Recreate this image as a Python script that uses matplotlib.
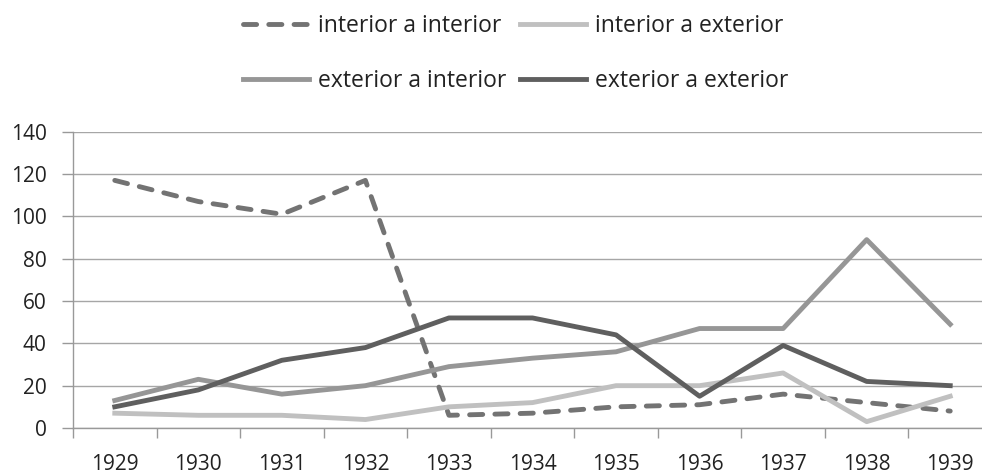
import matplotlib.pyplot as plt
import numpy as np

years = ["1929", "1930", "1931", "1932", "1933", "1934", "1935", "1936", "1937", "1938", "1939"]
int_int = [117, 107, 101, 117, 6, 7, 10, 11, 16, 12, 8]
int_ext = [7, 6, 6, 4, 10, 12, 20, 20, 26, 3, 15]
ext_int = [13, 23, 16, 20, 29, 33, 36, 47, 47, 89, 49]
ext_ext = [10, 18, 32, 38, 52, 52, 44, 15, 39, 22, 20]
y_ticks = [0, 20, 40, 60, 80, 100, 120, 140]

plt.rcParams["font.family"] = ["Open Sans", "DejaVu Sans"]

W, H = 982, 475
fig = plt.figure(figsize=(W / 100, H / 100), dpi=100)
ax = fig.add_axes([73 / W, 47 / H, (992 - 73) / W, (428 - 131.7) / H])

x = np.arange(len(years))
l1, = ax.plot(x, int_int, color="#737373", lw=3.5, linestyle=(0, (2.7, 2.5)),
              dash_capstyle="round", label="interior a interior", zorder=3)
l2, = ax.plot(x, int_ext, color="#c0c0c0", lw=3.5, label="interior a exterior", zorder=3)
l3, = ax.plot(x, ext_int, color="#969696", lw=3.5, label="exterior a interior", zorder=3)
l4, = ax.plot(x, ext_ext, color="#5f5f5f", lw=3.5, label="exterior a exterior", zorder=3)

ax.set_xlim(-0.5, len(years) - 0.5)
ax.set_ylim(0, 140)
ax.set_yticks(y_ticks)
ax.set_xticks(x)
ax.set_xticklabels(years)
ax.set_xticks(np.arange(len(years) + 1) - 0.5, minor=True)
ax.tick_params(axis="x", which="major", length=0, pad=19, labelsize=15, colors="#222222")
ax.tick_params(axis="x", which="minor", length=7, width=1, color="#999999")
ax.tick_params(axis="y", length=8, width=1, color="#999999", labelsize=15,
               labelcolor="#222222", pad=11)

ax.grid(axis="y", color="#a6a6a6", linewidth=1)
ax.set_axisbelow(True)
for s in ["top", "right"]:
    ax.spines[s].set_visible(False)
for s in ["left", "bottom"]:
    ax.spines[s].set_color("#999999")
    ax.spines[s].set_linewidth(1)

# column-major fill: row 1 = l1, l2 ; row 2 = l3, l4
fig.legend([l1, l3, l2, l4], [l.get_label() for l in [l1, l3, l2, l4]],
           loc="upper left", bbox_to_anchor=(243 / W, 1 - 14 / H), ncol=2, frameon=False,
           fontsize=16.5, handlelength=2.9, handletextpad=0.39, columnspacing=0.57,
           labelspacing=1.35, borderpad=0, borderaxespad=0, labelcolor="#222222")

fig.savefig("out.png", dpi=100)
